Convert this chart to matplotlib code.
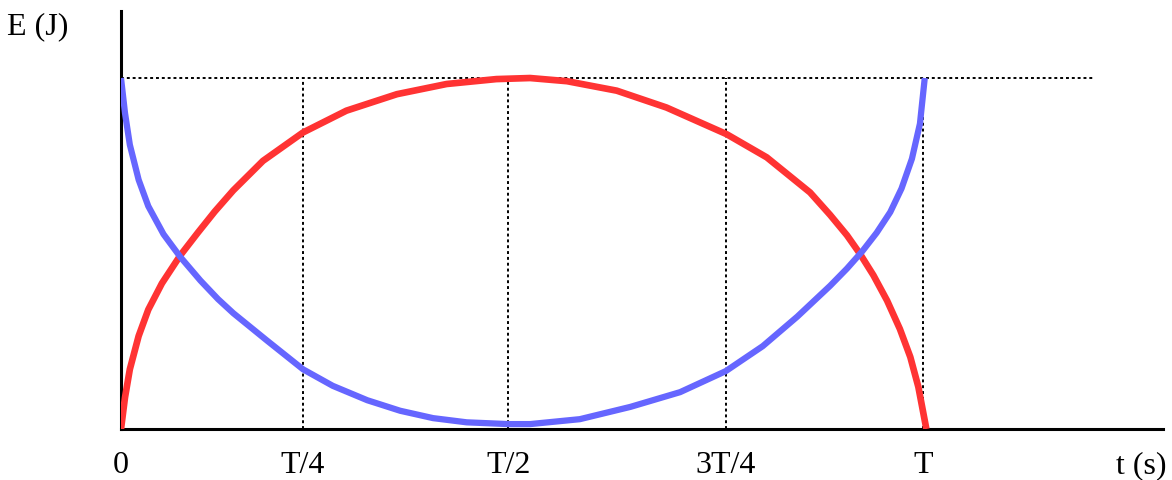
import matplotlib
matplotlib.use('Agg')
import matplotlib.pyplot as plt

# time in percent of T, energy in percent of E max
red_t = [0.0, 0.5, 1.1, 2.2, 3.4, 5.1, 7.4, 9.6, 11.7, 14.0, 17.7, 22.7, 28.1,
         34.4, 40.6, 46.8, 51.0, 55.6, 61.8, 68.0, 75.5, 80.5, 85.9, 88.4, 90.5,
         92.1, 93.8, 95.5, 97.1, 98.4, 99.4, 100.4]
red_e = [0.0, 9.0, 17.0, 26.5, 34.0, 41.5, 49.5, 56.0, 62.0, 68.0, 76.4, 84.5, 90.7,
         95.4, 98.3, 99.7, 100.0, 99.1, 96.4, 91.6, 84.0, 77.4, 67.4, 61.0, 55.2,
         50.0, 43.8, 36.6, 28.5, 20.5, 12.0, 0.0]

blue_t = [0.0, 0.5, 1.1, 2.2, 3.4, 5.3, 7.4, 9.9, 12.1, 14.0, 18.2, 22.7, 26.4,
          30.7, 34.8, 38.9, 43.1, 48.3, 51.0, 57.2, 63.5, 69.7, 75.4, 80.0, 84.3,
          88.4, 90.5, 92.4, 94.2, 95.9, 97.3, 98.6, 99.6, 100.2]
blue_e = [100.0, 90.0, 81.0, 71.0, 63.5, 55.5, 49.0, 42.3, 37.0, 33.0, 25.2, 17.0, 12.3,
          8.2, 5.2, 3.1, 1.9, 1.4, 1.4, 2.8, 6.3, 10.5, 16.5, 23.6, 32.0,
          40.8, 45.7, 50.6, 55.9, 61.8, 68.5, 77.0, 87.0, 100.0]

tick_pos = [0.0, 22.7, 48.3, 75.4, 100.0]
tick_labels = ['0', 'T/4', 'T/2', '3T/4', 'T']
guide_pos = [22.7, 48.3, 75.4, 100.0]
e_max = 100.0
top_guide_end = 121.4

plt.rcParams['font.family'] = ['Liberation Serif', 'DejaVu Serif']

fig = plt.figure(figsize=(11.72, 4.81), dpi=100)
ax = fig.add_axes([121 / 1172, 51 / 481, 1042 / 1172, 418 / 481])
ax.set_xlim(0, 129.9)
ax.set_ylim(0, 119.1)

dots = dict(color='black', lw=1.4, linestyle=(0, (1.5, 1.5)), zorder=1)
ax.plot([0, top_guide_end], [e_max, e_max], **dots)
for x in guide_pos:
    ax.plot([x, x], [0, e_max], **dots)

ax.plot(red_t, red_e, color='#ff3333', lw=4.8, solid_capstyle='butt',
        solid_joinstyle='round', zorder=3)
ax.plot(blue_t, blue_e, color='#6666ff', lw=4.5, solid_capstyle='butt',
        solid_joinstyle='round', zorder=4)

for side in ['top', 'right']:
    ax.spines[side].set_visible(False)
for side in ['left', 'bottom']:
    ax.spines[side].set_linewidth(2.2)
    ax.spines[side].set_color('black')

ax.set_yticks([])
ax.set_xticks(tick_pos)
ax.set_xticklabels(tick_labels)
ax.tick_params(axis='x', length=0, pad=15, labelsize=23)

# axis name on the same line as the tick labels
fig.canvas.draw()
tick_y = ax.get_xticklabels()[0].get_window_extent().y1
inv = ax.transAxes.inverted()
ax.text(127.2, inv.transform((0, tick_y))[1], 't (s)', fontsize=23, ha='center',
        va='top', transform=ax.get_xaxis_transform(), clip_on=False)

fig.text(7 / 1172, 1 - 34 / 481, 'E (J)', fontsize=23, ha='left', va='baseline')

fig.savefig('out.png', dpi=100)
